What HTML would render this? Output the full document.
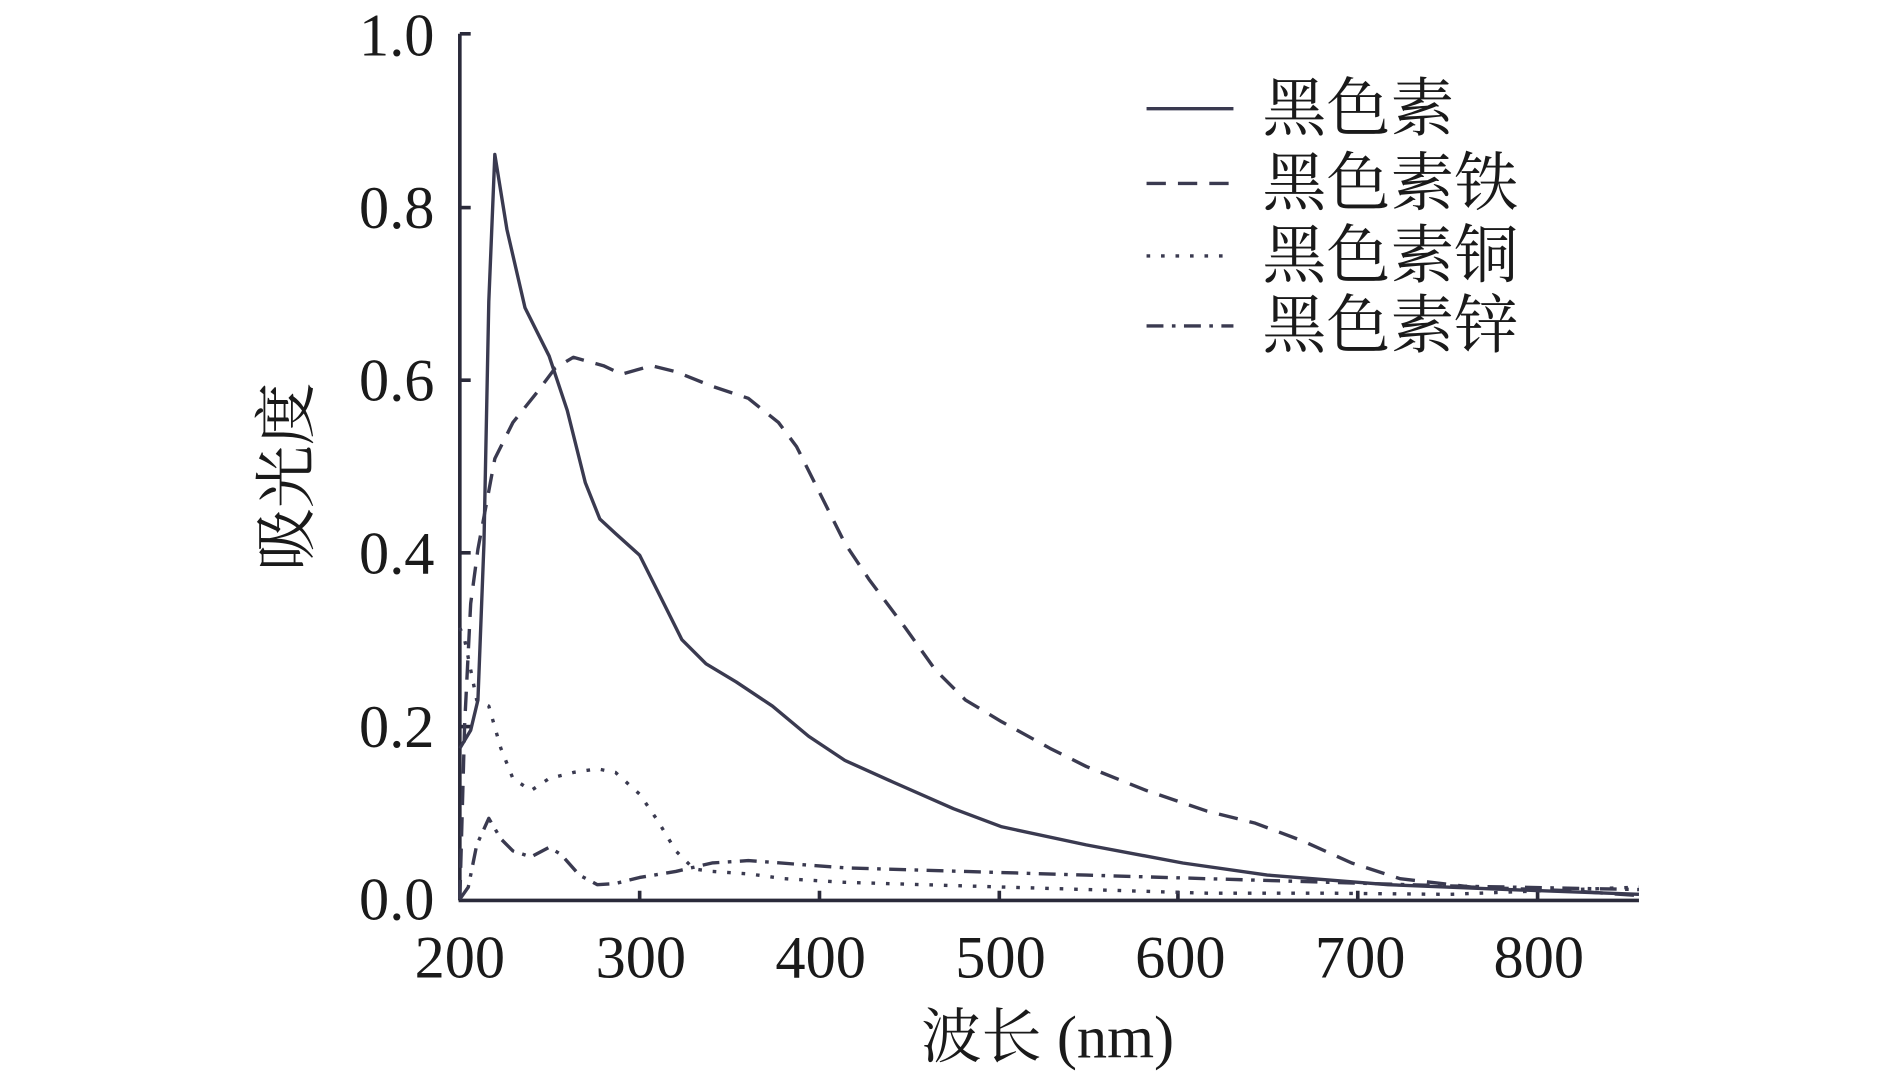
<!DOCTYPE html>
<html><head><meta charset="utf-8"><style>
html,body{margin:0;padding:0;background:#fff;}
svg{display:block;}
text{font-family:"Liberation Serif","Noto Serif CJK SC",serif;fill:#1a1a1a;}
</style></head><body>
<svg width="1890" height="1073" viewBox="0 0 1566 889" preserveAspectRatio="none" xmlns="http://www.w3.org/2000/svg">
<g stroke="#2a2a3a" stroke-width="3" fill="none">
<line x1="381" y1="28" x2="381" y2="746"/>
<line x1="380" y1="746" x2="1358" y2="746"/>
<line x1="381" y1="28" x2="390" y2="28"/><line x1="381" y1="172" x2="390" y2="172"/>
<line x1="381" y1="315" x2="390" y2="315"/><line x1="381" y1="458" x2="390" y2="458"/>
<line x1="381" y1="602" x2="390" y2="602"/>
<line x1="530" y1="746" x2="530" y2="738"/><line x1="679" y1="746" x2="679" y2="738"/>
<line x1="828" y1="746" x2="828" y2="738"/><line x1="976" y1="746" x2="976" y2="738"/>
<line x1="1125" y1="746" x2="1125" y2="738"/><line x1="1274" y1="746" x2="1274" y2="738"/>
</g>
<g font-size="50" text-anchor="end">
<text x="360" y="46">1.0</text><text x="360" y="189">0.8</text><text x="360" y="332">0.6</text>
<text x="360" y="475">0.4</text><text x="360" y="619">0.2</text><text x="360" y="762">0.0</text>
</g>
<g font-size="50" text-anchor="middle">
<text x="381" y="810">200</text><text x="531" y="810">300</text><text x="680" y="810">400</text>
<text x="829" y="810">500</text><text x="978" y="810">600</text><text x="1127" y="810">700</text>
<text x="1275" y="810">800</text>
<text x="868" y="876">波长 (nm)</text>
</g>
<text font-size="52" text-anchor="middle" transform="translate(255,395) rotate(-90)">吸光度</text>
<g fill="none" stroke="#3a3a50" stroke-width="2.8" stroke-linejoin="round">
<polyline points="381,620 390,605 396,580 401,450 405,250 410,128 420,190 435,255 455,295 470,340 485,400 497,430 510,442 530,460 545,490 565,530 585,550 610,565 640,585 670,610 700,630 740,648 790,670 830,685 900,700 980,715 1050,725 1150,733 1250,737 1358,741"/>
<polyline stroke-dasharray="16,10" points="381,745 385,600 390,500 396,455 410,380 425,350 445,325 460,305 475,296 500,303 515,310 540,303 560,308 590,320 620,330 645,350 660,370 680,410 700,450 720,480 750,520 775,555 800,580 830,598 870,620 900,635 950,655 1000,672 1040,682 1080,697 1120,715 1160,728 1220,735 1300,738 1358,742"/>
<polyline stroke-dasharray="3,9" points="381,520 385,530 395,580 405,585 415,620 425,645 440,655 455,645 475,640 495,637 510,640 530,658 545,680 560,705 575,720 590,722 620,724 650,728 700,731 800,734 900,737 1000,740 1100,740 1200,741 1358,735"/>
<polyline stroke-dasharray="14,7,3,7" points="381,745 388,735 395,700 405,678 415,695 425,705 440,710 455,702 465,708 480,725 495,733 510,732 530,727 560,722 590,715 620,713 660,716 700,719 800,722 900,725 1000,728 1100,731 1200,734 1358,737"/>
<line x1="950" y1="90" x2="1022" y2="90"/>
<line x1="950" y1="152" x2="1022" y2="152" stroke-dasharray="16,10"/>
<line x1="950" y1="212" x2="1022" y2="212" stroke-dasharray="3,9"/>
<line x1="950" y1="270" x2="1022" y2="270" stroke-dasharray="14,7,3,7"/>
</g>
<g font-size="53">
<text x="1046" y="108">黑色素</text><text x="1046" y="170">黑色素铁</text>
<text x="1046" y="230">黑色素铜</text><text x="1046" y="288">黑色素锌</text>
</g>
</svg>
</body></html>
